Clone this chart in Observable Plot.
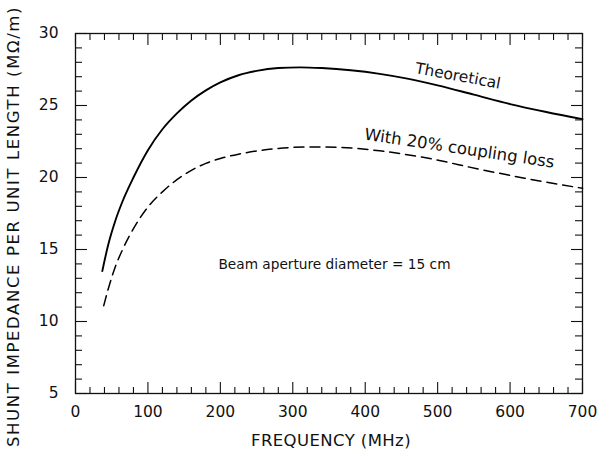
<!DOCTYPE html>
<html><head><meta charset="utf-8">
<script src="https://cdn.jsdelivr.net/npm/d3@7"></script>
<script src="https://cdn.jsdelivr.net/npm/@observablehq/plot@0.6"></script>
<style>
body{margin:0;background:#fff}
.ylab text{letter-spacing:1.6px}
.xlab text{letter-spacing:0.4px}
</style>
</head><body><div id="chart"></div>
<script>
// Theoretical curve (frequency in MHz, shunt impedance in MΩ/m)
const theoFreq = [37, 45, 55, 65, 80, 100, 120, 140, 160, 180, 200, 225, 250, 280, 310, 340, 380, 420, 460, 500, 550, 600, 650, 700];
const theoVal  = [13.5, 15.3, 17.0, 18.35, 20.0, 21.9, 23.35, 24.45, 25.35, 26.05, 26.6, 27.1, 27.4, 27.6, 27.65, 27.6, 27.45, 27.2, 26.85, 26.4, 25.75, 25.1, 24.55, 24.05];
// With 20% coupling loss
const lossFreq = [39, 46, 55, 65, 80, 100, 120, 140, 160, 180, 200, 225, 250, 280, 320, 360, 420, 480, 560, 620, 700];
const lossVal  = [11.1, 12.4, 13.8, 15.0, 16.45, 17.95, 19.0, 19.85, 20.5, 20.98, 21.32, 21.62, 21.84, 22.02, 22.12, 22.1, 21.85, 21.4, 20.55, 19.95, 19.25];

const xMajor = [0, 100, 200, 300, 400, 500, 600, 700];
const yMajor = [5, 10, 15, 20, 25, 30];
const xMinor = d3.range(20, 700, 20).filter(v => v % 100 !== 0);
const yMinor = d3.range(6, 30, 1).filter(v => v % 5 !== 0);

const theo = theoFreq.map((f, i) => ({f, v: theoVal[i]}));
const loss = lossFreq.map((f, i) => ({f, v: lossVal[i]}));

const W = 613, H = 451, ML = 75, MR = 31, MT = 33, MB = 58;
const FW = W - ML - MR, FH = H - MT - MB;
const font = "'DejaVu Sans', sans-serif";
const ink = "#111";

const chart = Plot.plot({
  width: W, height: H,
  marginLeft: ML, marginRight: MR, marginTop: MT, marginBottom: MB,
  style: {fontFamily: font, fontSize: "15.5px", color: ink, background: "#fff", overflow: "visible"},
  x: {domain: [0, 700]},
  y: {domain: [5, 30]},
  marks: [
    // inward ticks on all four sides
    Plot.ruleX(xMinor, {x: d => d, insetTop: FH - 6, stroke: ink, strokeWidth: 1.1}),
    Plot.ruleX(xMajor, {x: d => d, insetTop: FH - 11, stroke: ink, strokeWidth: 1.1}),
    Plot.ruleX(xMinor, {x: d => d, insetBottom: FH - 7, stroke: ink, strokeWidth: 1.1}),
    Plot.ruleX(xMajor, {x: d => d, insetBottom: FH - 12, stroke: ink, strokeWidth: 1.1}),
    Plot.ruleY(yMinor, {y: d => d, insetRight: FW - 7, stroke: ink, strokeWidth: 1.1}),
    Plot.ruleY(yMajor, {y: d => d, insetRight: FW - 12, stroke: ink, strokeWidth: 1.1}),
    Plot.ruleY(yMinor, {y: d => d, insetLeft: FW - 7, stroke: ink, strokeWidth: 1.1}),
    Plot.ruleY(yMajor, {y: d => d, insetLeft: FW - 11, stroke: ink, strokeWidth: 1.1}),
    // tick labels
    Plot.axisX(xMajor, {anchor: "bottom", tickSize: 0, tickPadding: 12, label: null, fontSize: 15.5}),
    Plot.axisY(yMajor, {anchor: "left", tickSize: 0, tickPadding: 17, label: null, fontSize: 15.5}),
    // axis titles
    Plot.text(["FREQUENCY (MHz)"], {text: d => d, frameAnchor: "bottom", textAnchor: "middle", lineAnchor: "middle", dx: 2, dy: 47, fontSize: 16.5, fill: ink, className: "xlab"}),
    Plot.text(["SHUNT IMPEDANCE PER UNIT LENGTH (MΩ/m)"], {text: d => d, frameAnchor: "left", textAnchor: "middle", lineAnchor: "middle", rotate: -90, dx: -62, dy: 13, fontSize: 16.5, fill: ink, className: "ylab"}),
    Plot.frame({stroke: ink, strokeWidth: 1.3}),
    // curves
    Plot.line(theo, {x: "f", y: "v", curve: "monotone-x", stroke: "#000", strokeWidth: 1.9}),
    Plot.line(loss, {x: "f", y: "v", curve: "monotone-x", stroke: "#000", strokeWidth: 1.5, strokeDasharray: "10,6"}),
    // annotations
    Plot.text(["Theoretical"], {x: 528, y: 27.05, text: d => d, rotate: 10.4, fontSize: 15.5, fill: ink}),
    Plot.text(["With 20% coupling loss"], {x: 530, y: 22.02, text: d => d, rotate: 8.5, fontSize: 16.5, fill: ink}),
    Plot.text(["Beam aperture diameter = 15 cm"], {x: 197.4, y: 13.96, text: d => d, textAnchor: "start", fontSize: 13.7, fill: ink})
  ]
});
document.getElementById("chart").append(chart);
</script>
</body></html>
